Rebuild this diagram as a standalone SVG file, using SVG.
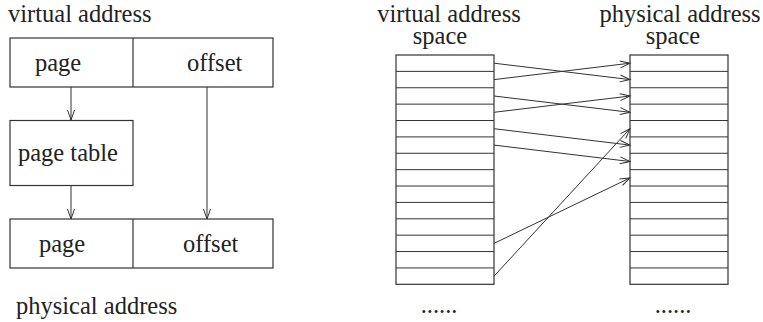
<svg xmlns="http://www.w3.org/2000/svg" width="763" height="322" viewBox="0 0 763 322">
<style>
text{font-family:"Liberation Serif","Times New Roman",Times,"Nimbus Roman","Noto Serif",Tinos,"DejaVu Serif",serif;font-size:24.5px;fill:#222}
.box{fill:none;stroke:#333;stroke-width:1.2}
.ln{fill:none;stroke:#333;stroke-width:1}
.mid{text-anchor:middle}
</style>
<defs>
<marker id="ah" markerUnits="userSpaceOnUse" markerWidth="12" markerHeight="8" refX="10" refY="3.5" orient="auto" overflow="visible">
<path d="M0,0 L10,3.5 L0,7" fill="none" stroke="#333" stroke-width="1"/>
</marker>
</defs>
<rect width="763" height="322" fill="#fff"/>
<text x="8" y="22">virtual address</text>
<g id="virtual-address">
<rect class="box" x="10" y="38" width="263" height="49"/>
<line class="box" x1="133" y1="38" x2="133" y2="87"/>
<text x="35" y="71">page</text>
<text x="187" y="71">offset</text>
</g>
<g id="page-table">
<rect class="box" x="10" y="120.5" width="123" height="65"/>
<text x="18" y="161">page table</text>
</g>
<g id="physical-address">
<rect class="box" x="10" y="219" width="263" height="49"/>
<line class="box" x1="133" y1="219" x2="133" y2="268"/>
<text x="39" y="252">page</text>
<text x="183" y="252">offset</text>
</g>
<text x="16" y="314">physical address</text>
<g id="virtual-space">
<text class="mid" x="449" y="22">virtual address</text>
<text class="mid" x="440" y="44">space</text>
<rect class="box" x="396" y="55" width="98" height="229.3"/>
<path class="ln" d="M396,71.38H494M396,87.76H494M396,104.14H494M396,120.52H494M396,136.9H494M396,153.28H494M396,169.66H494M396,186.04H494M396,202.42H494M396,218.8H494M396,235.18H494M396,251.56H494M396,267.94H494"/>
<text class="mid" x="439" y="313">......</text>
</g>
<g id="physical-space">
<text class="mid" x="680" y="22">physical address</text>
<text class="mid" x="673" y="44">space</text>
<rect class="box" x="630" y="55" width="98" height="229.3"/>
<path class="ln" d="M630,71.38H728M630,87.76H728M630,104.14H728M630,120.52H728M630,136.9H728M630,153.28H728M630,169.66H728M630,186.04H728M630,202.42H728M630,218.8H728M630,235.18H728M630,251.56H728M630,267.94H728"/>
<text class="mid" x="673" y="313">......</text>
</g>
<g id="connectors">
<line class="ln" x1="71" y1="87" x2="71" y2="120" marker-end="url(#ah)"/>
<line class="ln" x1="71" y1="186" x2="71" y2="219" marker-end="url(#ah)"/>
<line class="ln" x1="207" y1="87" x2="207" y2="219" marker-end="url(#ah)"/>
<line class="ln" x1="494" y1="63.2" x2="630" y2="79.6" marker-end="url(#ah)"/>
<line class="ln" x1="494" y1="79.6" x2="630" y2="63.2" marker-end="url(#ah)"/>
<line class="ln" x1="494" y1="96" x2="630" y2="112.3" marker-end="url(#ah)"/>
<line class="ln" x1="494" y1="112.3" x2="630" y2="96" marker-end="url(#ah)"/>
<line class="ln" x1="494" y1="128.7" x2="630" y2="145.1" marker-end="url(#ah)"/>
<line class="ln" x1="494" y1="145.1" x2="630" y2="161.5" marker-end="url(#ah)"/>
<line class="ln" x1="494" y1="243.4" x2="630" y2="177.9" marker-end="url(#ah)"/>
<line class="ln" x1="494" y1="276.2" x2="630" y2="128.7" marker-end="url(#ah)"/>
</g>
</svg>
